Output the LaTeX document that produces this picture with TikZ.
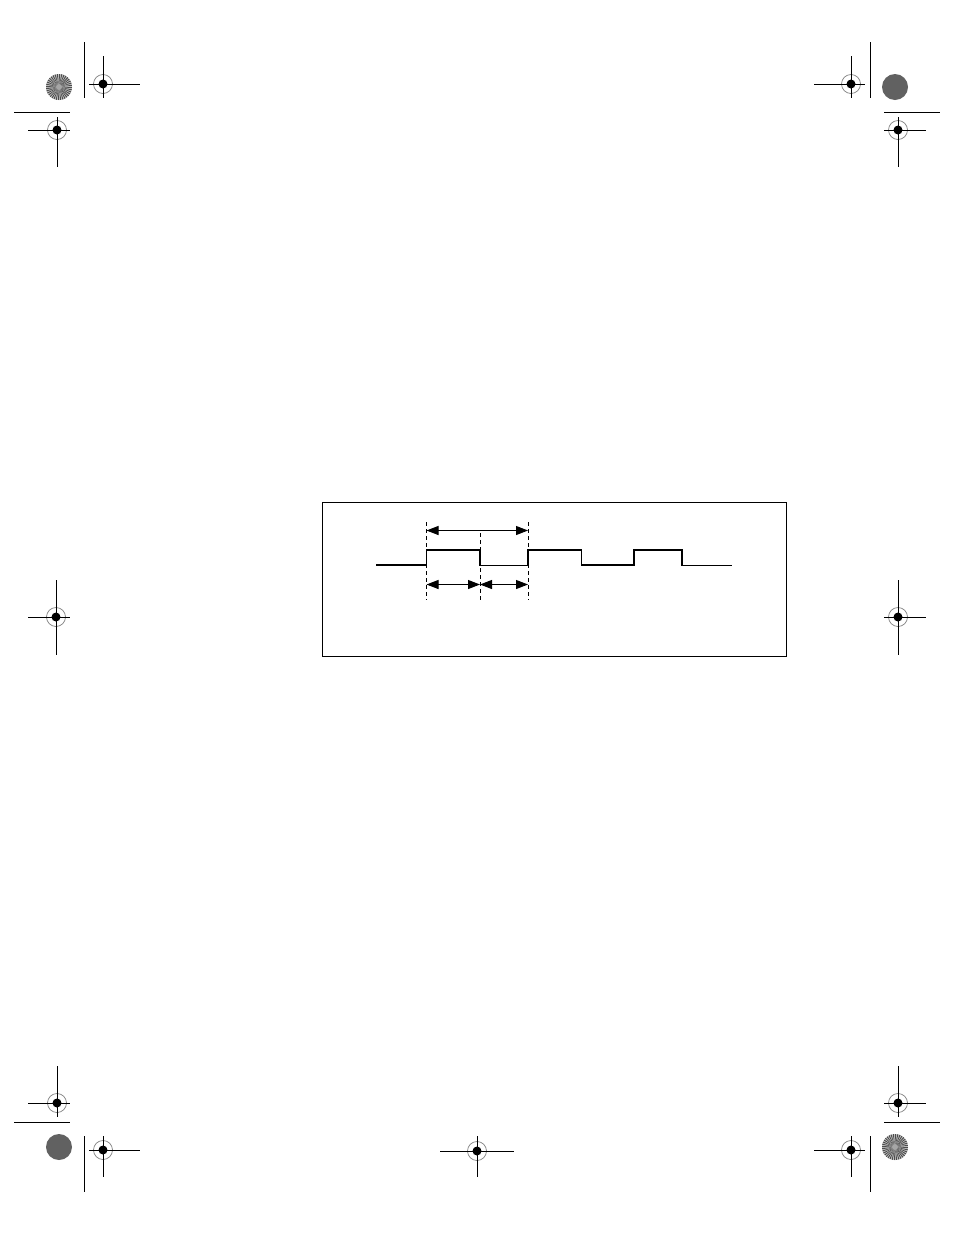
\documentclass[tikz,border=0pt]{standalone}
\usetikzlibrary{arrows.meta}
\tikzset{
  cropline/.style={line width=1pt, black},
  wave/.style={line width=1.1pt, black, line join=miter},
  guide/.style={line width=0.9pt, black, dash pattern=on 4pt off 3pt},
  dim/.style={line width=1pt, black, {Triangle[length=12pt,width=9pt]}-{Triangle[length=12pt,width=9pt]}},
  framebox/.style={line width=1pt, black}
}
% registration mark: center (#1,#2), horizontal from #3 to #4, vertical from #5 to #6
\newcommand{\regmark}[6]{%
  \draw[gray, line width=0.7pt] (#1,#2) circle (9.5);
  \fill[black] (#1,#2) circle (4.5);
  \draw[cropline] (#3,#2) -- (#4,#2);
  \draw[cropline] (#1,#5) -- (#1,#6);
}
\newcommand{\radialstar}[2]{%
  \fill[gray!45] (#1,#2) circle (13);
  \foreach \a in {0,10,...,350} {
    \fill[black!70] (#1,#2) -- ++(\a:13) arc[start angle=\a, end angle=\a+5, radius=13] -- cycle;
  }
  \fill[gray!70] (#1,#2) circle (3);
}
\newcommand{\darkstar}[2]{%
  \fill[black!62] (#1,#2) circle (13);
}
\begin{document}
\begin{tikzpicture}[x=1pt,y=-1pt]
\useasboundingbox (0,0) rectangle (954,1235);
\fill[white] (0,0) rectangle (954,1235);

% ---- top left
\radialstar{59}{87}
\draw[cropline] (84,42) -- (84,98);
\regmark{103}{84}{89}{140}{56}{98}
\draw[cropline] (14,112) -- (70,112);
\regmark{57}{130}{28}{70}{117}{167}

% ---- top right
\darkstar{895}{87}
\draw[cropline] (870,42) -- (870,98);
\regmark{851}{84}{814}{865}{56}{98}
\draw[cropline] (884,112) -- (940,112);
\regmark{898}{130}{884}{926}{117}{167}

% ---- middle
\regmark{56}{617}{28}{70}{580}{655}
\regmark{898}{617}{884}{926}{580}{655}

% ---- bottom left
\regmark{57}{1103}{28}{70}{1066}{1117}
\draw[cropline] (14,1122) -- (70,1122);
\darkstar{59}{1147}
\draw[cropline] (84,1136) -- (84,1192);
\regmark{103}{1150}{89}{140}{1136}{1177}

% ---- bottom center
\regmark{477}{1151}{440}{514}{1136}{1177}

% ---- bottom right
\regmark{898}{1103}{884}{926}{1066}{1117}
\draw[cropline] (884,1122) -- (940,1122);
\radialstar{895}{1147}
\draw[cropline] (870,1136) -- (870,1192);
\regmark{851}{1150}{814}{865}{1136}{1177}

% ---- frame
\draw[framebox] (322,502) rectangle (786,656);

% ---- waveform
\coordinate (w0) at (376,565);
\draw[wave] (w0) -- (426.5,565) -- (426.5,550) -- (480,550) -- (480,565.5)
  -- (528,565.5) -- (528,550) -- (581.5,550) -- (581.5,565) -- (634,565)
  -- (634,550) -- (682,550) -- (682,565.5) -- (732,565.5);

% ---- guides
\coordinate (g1t) at (426.5,522);
\coordinate (g1b) at (426.5,600);
\coordinate (g2t) at (480,533);
\coordinate (g2b) at (480,600);
\coordinate (g3t) at (528,522);
\coordinate (g3b) at (528,600);
\draw[guide] (g1t) -- (g1b);
\draw[guide] (g2t) -- (g2b);
\draw[guide] (g3t) -- (g3b);

% ---- dimension arrows
\coordinate (a1) at (426.5,530.5);
\coordinate (a2) at (528,530.5);
\coordinate (b1) at (426.5,584.5);
\coordinate (b2) at (480,584.5);
\coordinate (b3) at (528,584.5);
\draw[dim] (a1) -- (a2);
\draw[dim] (b1) -- (b2);
\draw[dim] (b2) -- (b3);
\end{tikzpicture}
\end{document}
